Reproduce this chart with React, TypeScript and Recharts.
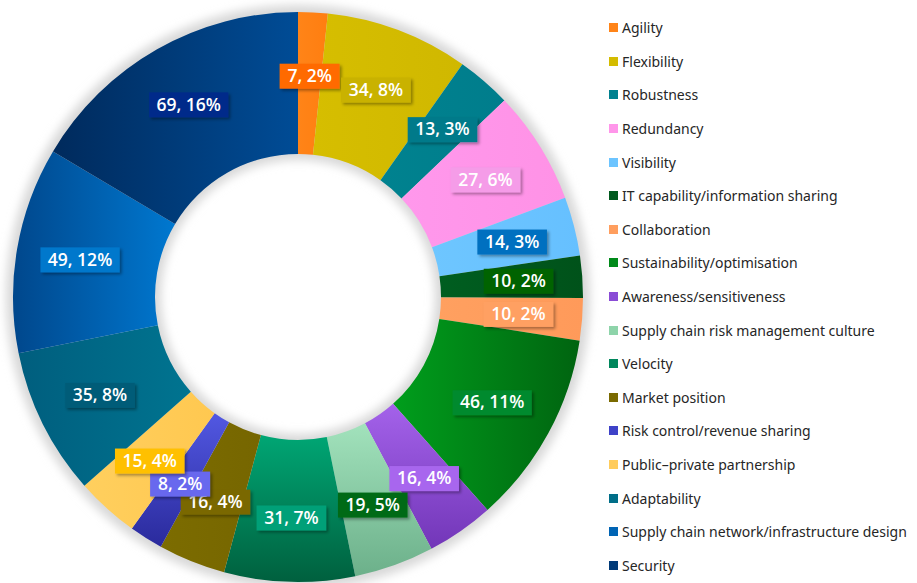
import { Cell, Pie, PieChart } from "recharts";

const categories = [
  "Agility",
  "Flexibility",
  "Robustness",
  "Redundancy",
  "Visibility",
  "IT capability/information sharing",
  "Collaboration",
  "Sustainability/optimisation",
  "Awareness/sensitiveness",
  "Supply chain risk management culture",
  "Velocity",
  "Market position",
  "Risk control/revenue sharing",
  "Public–private partnership",
  "Adaptability",
  "Supply chain network/infrastructure design",
  "Security",
];

const counts = [7, 34, 13, 27, 14, 10, 10, 46, 16, 19, 31, 16, 8, 15, 35, 49, 69];

// slice gradients: [start, end, vertical?]
const sliceFills: [string, string, boolean][] = [
  ["#FF8418", "#FF7E10", false],
  ["#D6BE00", "#D0B800", false],
  ["#00828F", "#007D8C", false],
  ["#FF98EC", "#FF92E6", false],
  ["#6EC6FF", "#66C0FF", false],
  ["#005E20", "#00521A", false],
  ["#FFA060", "#FF9A5A", false],
  ["#009E1C", "#006410", false],
  ["#A462EA", "#7236B8", true],
  ["#A2E2BC", "#6CB08A", true],
  ["#00A674", "#00603E", true],
  ["#7C6C00", "#766600", false],
  ["#5258E2", "#2A2A9C", true],
  ["#FFCF5E", "#FFC850", false],
  ["#005E7E", "#007490", false],
  ["#00478C", "#0078D0", false],
  ["#002A5C", "#004C96", false],
];

const legendColors = [
  "#FF8418", "#D4BC00", "#00808F", "#FF96EA", "#6CC4FF", "#005A1E",
  "#FF9E5E", "#008A1A", "#8A4CD6", "#8ED4AA", "#00875C", "#7A6A00",
  "#3E42C8", "#FFCC5C", "#006E88", "#0064B4", "#003A78",
];

const boxColors = [
  "#FF6A00", "#C9B200", "#007A8A", "#F59CE8", "#0070C0", "#006400",
  "#FFA062", "#008A2E", "#A866EE", "#006A14", "#00A078", "#7A6800",
  "#6868EE", "#FFC000", "#005C78", "#0078CC", "#002A8A",
];

const tableData = categories.map((name, i) => ({ name, value: counts[i] }));

const RAD = Math.PI / 180;

function renderLabel(props: any) {
  const { cx, cy, midAngle, innerRadius, outerRadius, value, percent, index } = props;
  const r = innerRadius + (outerRadius - innerRadius) * 0.55;
  const x = cx + r * Math.cos(-midAngle * RAD);
  const y = cy + r * Math.sin(-midAngle * RAD);
  const text = `${value}, ${Math.round(percent * 100)}%`;
  const w = text.length * 9.6 + 12;
  const h = 25;
  return (
    <g key={`lbl-${index}`}>
      <rect
        x={x - w / 2}
        y={y - h / 2}
        width={w}
        height={h}
        fill={boxColors[index]}
        filter="url(#boxShadow)"
      />
      <text
        x={x}
        y={y + 1}
        textAnchor="middle"
        dominantBaseline="middle"
        fill="#ffffff"
        fontFamily="'Open Sans', sans-serif"
        fontWeight={600}
        fontSize={17.5}
      >
        {text}
      </text>
    </g>
  );
}

function LegendList() {
  return (
    <div
      style={{
        position: "absolute",
        left: 609,
        top: 11,
        width: 308,
        fontFamily: "'Noto Sans', sans-serif",
        fontSize: 14,
        color: "#262626",
      }}
    >
      {categories.map((c, i) => (
        <div key={c} style={{ height: 33.6, display: "flex", alignItems: "center", whiteSpace: "nowrap" }}>
          <span
            style={{
              width: 9,
              height: 9,
              background: legendColors[i],
              marginRight: 4,
              display: "inline-block",
              flexShrink: 0,
            }}
          />
          <span>{c}</span>
        </div>
      ))}
    </div>
  );
}

export default function App() {
  return (
    <div style={{ position: "fixed", left: 0, top: 0, width: 917, height: 583, background: "#fff" }}>
      <PieChart width={600} height={583} margin={{ top: 0, right: 0, bottom: 0, left: 0 }}>
        <defs>
          {sliceFills.map(([a, b, vert], i) => (
            <linearGradient
              key={i}
              id={`slice-${i}`}
              x1="0"
              y1="0"
              x2={vert ? "0" : "1"}
              y2={vert ? "1" : "0"}
            >
              <stop offset="0%" stopColor={a} />
              <stop offset="100%" stopColor={b} />
            </linearGradient>
          ))}
          <filter id="glow" x="-20%" y="-20%" width="140%" height="140%">
            <feGaussianBlur stdDeviation="5" />
          </filter>
          <filter id="boxShadow" x="-20%" y="-30%" width="150%" height="180%">
            <feDropShadow dx="2" dy="2" stdDeviation="1.5" floodColor="#000" floodOpacity="0.35" />
          </filter>
        </defs>
        <Pie
          data={[{ name: "bg", value: 1 }]}
          dataKey="value"
          cx={298}
          cy={297}
          innerRadius={137}
          outerRadius={292}
          startAngle={90}
          endAngle={-270}
          stroke="none"
          isAnimationActive={false}
          legendType="none"
        >
          <Cell fill="#d8d8d8" filter="url(#glow)" />
        </Pie>
        <Pie
          data={tableData}
          dataKey="value"
          nameKey="name"
          cx={298}
          cy={297}
          innerRadius={143}
          outerRadius={285}
          startAngle={90}
          endAngle={-270}
          stroke="none"
          label={renderLabel}
          labelLine={false}
          isAnimationActive={false}
        >
          {tableData.map((d, i) => (
            <Cell key={d.name} fill={`url(#slice-${i})`} />
          ))}
        </Pie>
      </PieChart>
      <LegendList />
    </div>
  );
}
